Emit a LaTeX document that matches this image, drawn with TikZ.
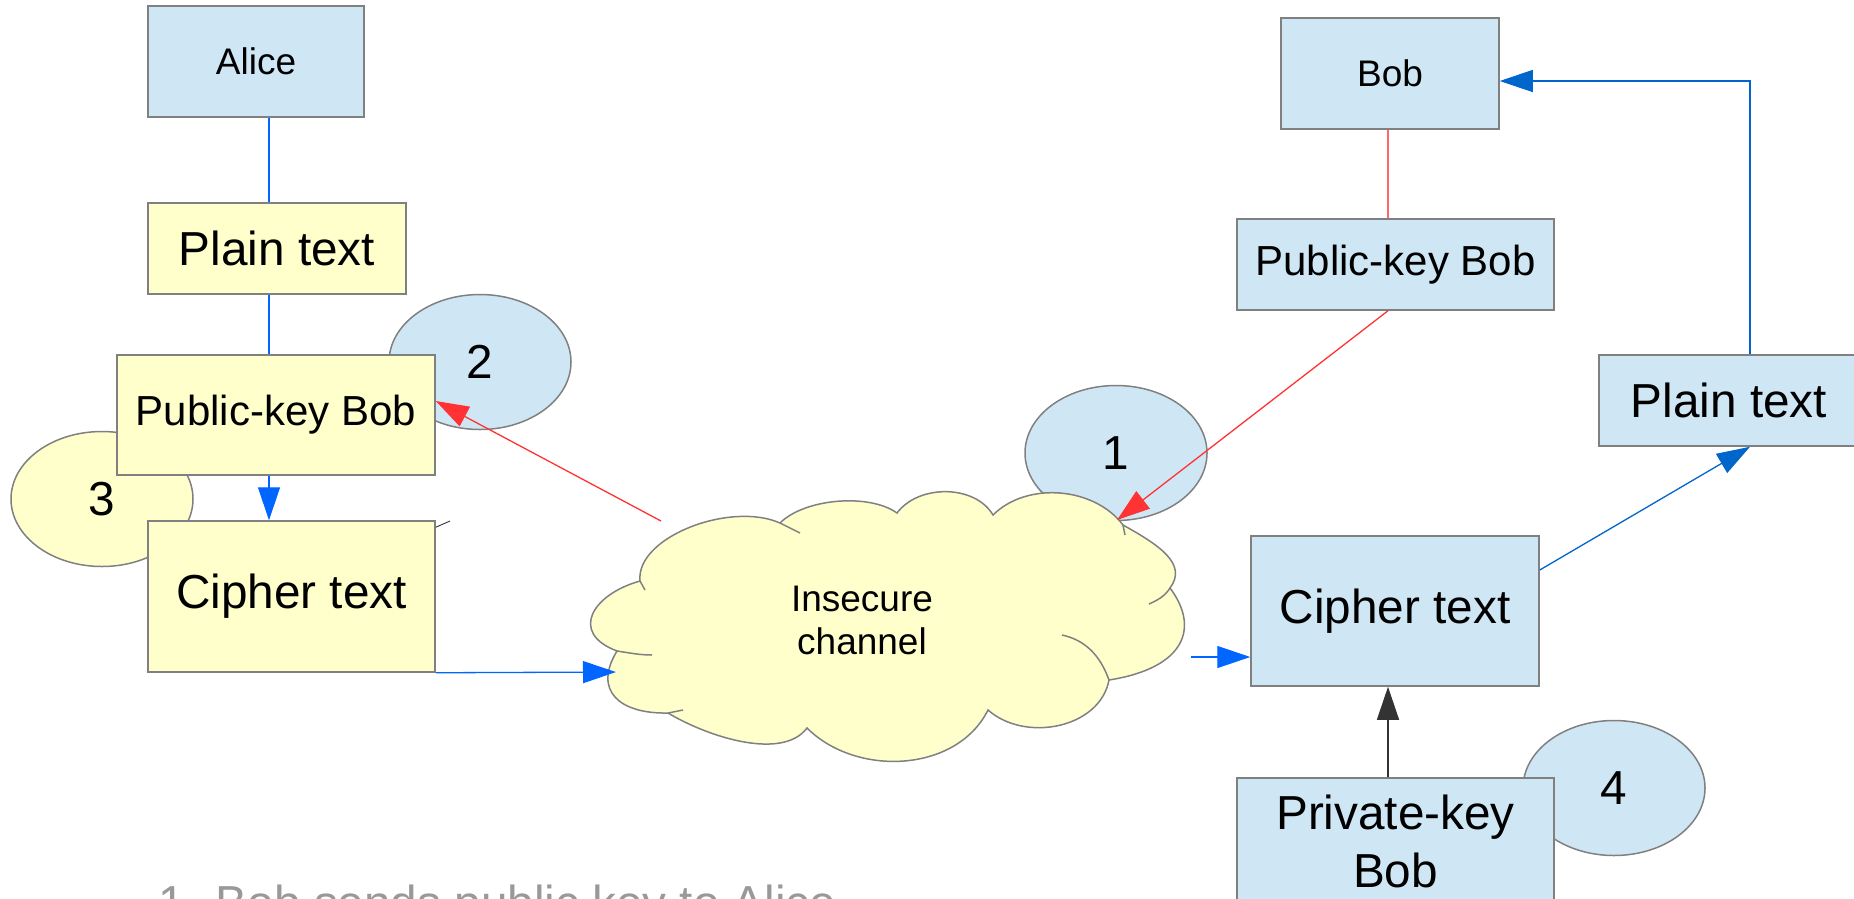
\documentclass[tikz,border=0pt]{standalone}
\usepackage{fontspec}
\setmainfont{Liberation Sans}
\usetikzlibrary{shapes.geometric,arrows.meta}
\definecolor{noteyellow}{HTML}{FFFFCC}
\definecolor{noteblue}{HTML}{CFE7F5}
\definecolor{edgegray}{HTML}{808080}
\definecolor{linkblue}{HTML}{0066FF}
\definecolor{darkblue}{HTML}{0066CC}
\definecolor{linkred}{HTML}{FF3333}
\definecolor{palered}{HTML}{FF6666}
\definecolor{captiongray}{HTML}{999999}
\newcommand{\hugetxt}{\fontsize{47.7}{58}\selectfont}
\newcommand{\midtxt}{\fontsize{42}{48}\selectfont}
\newcommand{\smalltxt}{\fontsize{37}{43}\selectfont}

\begin{document}
\begin{tikzpicture}[x=1pt, y=-1pt,
    card/.style ={rectangle, draw=edgegray, line width=1.5pt, inner sep=0pt, align=center},
    alicecard/.style ={card, fill=noteyellow},
    bobcard/.style ={card, fill=noteblue},
    stepmark/.style ={ellipse, draw=edgegray, line width=1.5pt, inner sep=0pt,
        minimum width=182pt, minimum height=135pt, font=\hugetxt},
    cloudline/.style ={draw=edgegray, line width=1.5pt},
    arrowed/.style ={-{Triangle[length=33pt, width=22pt]}},
    bluelink/.style ={draw=linkblue, line width=1.3pt},
    darklink/.style ={draw=darkblue, line width=1.3pt},
    redlink/.style ={draw=linkred, line width=1.3pt},
    blacklink/.style ={draw=black!80, line width=1.3pt}]
   \useasboundingbox (0,0) rectangle (1854,898);
   \clip (0,0) rectangle (1854,898);

   \node[stepmark, fill=noteblue] (two) at (480,362) {2};
   \node[stepmark, fill=noteyellow] (three) at (102,499) {3};
   \node[stepmark, fill=noteblue] (one) at (1116,453) {1};
   \node[stepmark, fill=noteblue] (four) at (1614,788) {4};

   \node[bobcard, minimum width=216pt, minimum height=111pt, font=\smalltxt] (alice) at (256,61.5) {Alice};
   \node[alicecard, minimum width=258pt, minimum height=91pt, font=\hugetxt] (plainA) at (277,248.5) {Plain text};
   \node[alicecard, minimum width=318pt, minimum height=120pt, font=\midtxt] (pubA) at (276,415) {Public-key Bob};
   \node[alicecard, minimum width=287pt, minimum height=151pt, font=\hugetxt] (cipherA) at (291.5,596.5) {Cipher text};

   \node[bobcard, minimum width=218pt, minimum height=111pt, font=\smalltxt] (bob) at (1390,73.5) {Bob};
   \node[bobcard, minimum width=317pt, minimum height=91pt, font=\midtxt] (pubB) at (1395.5,264.5) {Public-key Bob};
   \node[bobcard, minimum width=260pt, minimum height=91pt, font=\hugetxt] (plainB) at (1729,400.5) {Plain text};
   \node[bobcard, minimum width=288pt, minimum height=150pt, font=\hugetxt] (cipherB) at (1395,611) {Cipher text};
   \node[bobcard, minimum width=317pt, minimum height=127pt, font=\hugetxt] (privB) at (1395.5,841.5) {Private-key\\Bob};

   \coordinate (ca) at (640,581);
   \coordinate (cb) at (780,523);
   \coordinate (cc) at (897,513);
   \coordinate (cd) at (993,515);
   \coordinate (ce) at (1123,525);
   \coordinate (cf) at (1170,588);
   \coordinate (cg) at (1109,680);
   \coordinate (ch) at (988,710);
   \coordinate (ci) at (807,728);
   \coordinate (cj) at (668,713);
   \coordinate (ck) at (617,651);

   \draw[cloudline, fill=noteyellow] (ca)
      .. controls (635.5,537) and (730.5,501) .. (cb)
      .. controls (804.5,498.5) and (869,493) .. (cc)
      .. controls (918.6,484) and (975,484.4) .. (cd)
      .. controls (1026.6,481.4) and (1094,486.6) .. (ce)
      .. controls (1159,545) and (1188,564) .. (cf)
      .. controls (1200,628) and (1185,668) .. (cg)
      .. controls (1100,728) and (1025.5,743) .. (ch)
      .. controls (956.5,773) and (856,777) .. (ci)
      .. controls (783,760) and (711,738.5) .. (cj)
      .. controls (620,714) and (592.5,691) .. (ck)
      .. controls (569,633) and (592,594.5) .. (ca) -- cycle;
   \draw[cloudline] (cg) .. controls (1100,655) and (1085,640) .. (1062,635);
   \draw[cloudline] (ck) .. controls (630,653) and (640,655) .. (652,655);
   \draw[cloudline] (cf) .. controls (1165,596) and (1158,600) .. (1149,604);
   \draw[cloudline] (cb) -- (800,533);
   \draw[cloudline] (cj) -- (683,710);
   \draw[cloudline] (ca) -- (645,590);
   \draw[cloudline] (ce) -- (1125,535);
   \node[font=\smalltxt, align=center] (chan) at (862,620) {Insecure\\channel};

   \node[font=\hugetxt, text=captiongray, anchor=base west] (caption) at (155,919) {1. Bob sends public key to Alice};

   \coordinate (vl) at (269,0);
   \coordinate (bl) at (1388,0);
   \coordinate (rl) at (1750,0);
   \coordinate (inL) at (616,672);
   \coordinate (outTL) at (661,521);
   \coordinate (inTR) at (1117,520);
   \coordinate (outR) at (1191,657);
   \coordinate (stub) at (450,521);

   \draw[bluelink] (alice.south -| vl) -- (plainA.north -| vl);
   \draw[bluelink] (plainA.south -| vl) -- (pubA.north -| vl);
   \draw[bluelink, arrowed] (pubA.south -| vl) -- (cipherA.north -| vl);
   \draw[bluelink, arrowed] (cipherA.south east) -- (inL);
   \draw[redlink, arrowed] (outTL) -- ([yshift=14pt]pubA.east);
   \draw[blacklink, line width=0.9pt] ([yshift=-7pt]cipherA.north east) -- (stub);

   \draw[draw=palered, line width=1.3pt] (bob.south -| bl) -- (pubB.north -| bl);
   \draw[redlink, arrowed] (pubB.south -| bl) -- (inTR);
   \draw[bluelink, arrowed] (outR) -- (outR -| cipherB.west);
   \draw[blacklink, arrowed] (privB.north -| bl) -- (cipherB.south -| bl);
   \draw[darklink, arrowed] ([yshift=41pt]cipherB.east) -- (plainB.south -| rl);
   \draw[darklink, arrowed] (plainB.north -| rl) |- ([yshift=-7.5pt]bob.east);
\end{tikzpicture}
\end{document}
